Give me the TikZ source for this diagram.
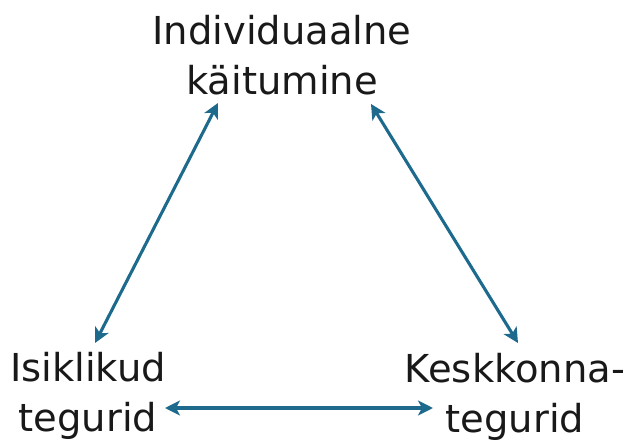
\documentclass[tikz,border=0pt]{standalone}
\usepackage{fontspec}
\setmainfont{DejaVu Sans}
\usetikzlibrary{arrows.meta}
\definecolor{arrowblue}{HTML}{1D6A8D}
\begin{document}
\begin{tikzpicture}[x=1pt,y=-1pt,
  label/.style={font=\fontsize{38.5}{50}\selectfont, align=center, anchor=base, inner sep=0pt, text=black!90},
  tip/.style={Stealth[length=15pt,width=15pt,inset=4pt]},
  link/.style={draw=arrowblue, line width=3.1pt, {Stealth[length=15pt,width=15pt,inset=4pt]}-{Stealth[length=15pt,width=15pt,inset=4pt]}}]
\useasboundingbox (0,0) rectangle (630,442);
\node[label] (top) at (282,94) {Individuaalne\\käitumine};
\node[label] (left) at (88,431) {Isiklikud\\tegurid};
\node[label] (right) at (515,432) {Keskkonna-\\tegurid};
\coordinate (tl) at (218,103);
\coordinate (bl) at (95,343);
\coordinate (tr) at (371,104);
\coordinate (br) at (518,343);
\coordinate (lb) at (165,408);
\coordinate (rb) at (433,408);
\draw[link] (tl) -- (bl);
\draw[link] (tr) -- (br);
\draw[link] (lb) -- (rb);
\end{tikzpicture}
\end{document}
